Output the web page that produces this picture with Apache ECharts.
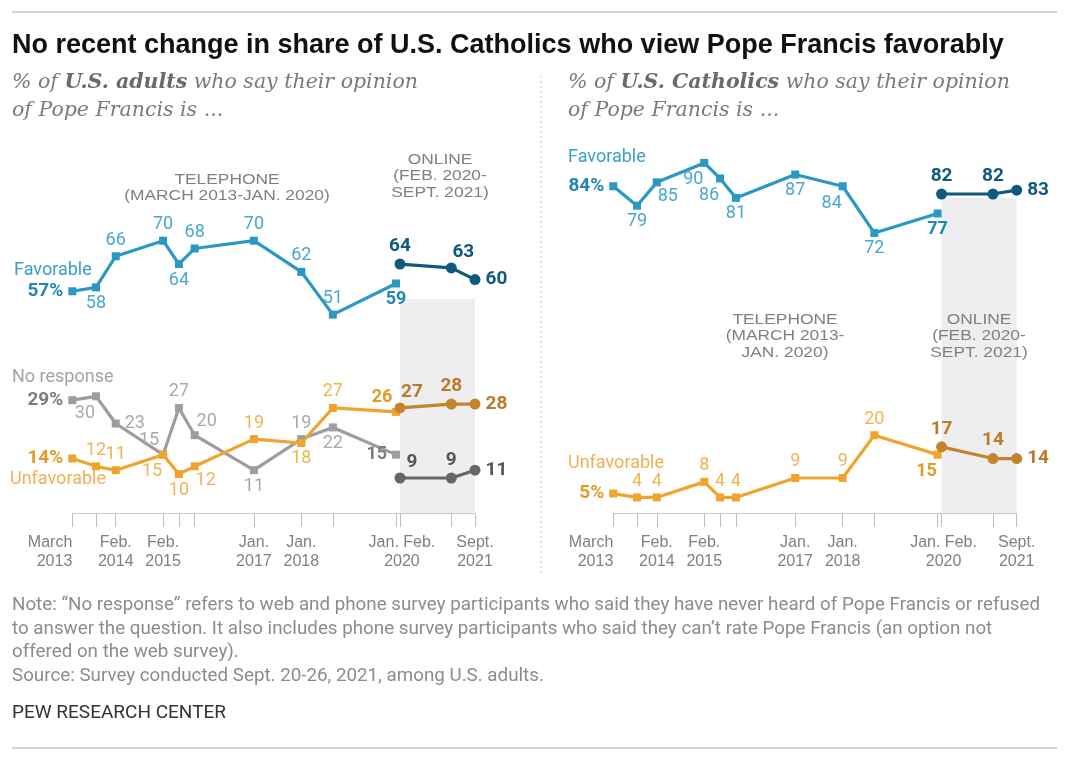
<!DOCTYPE html>
<html><head><meta charset="utf-8">
<script src="https://cdn.jsdelivr.net/npm/echarts@6/dist/echarts.min.js"></script>
<style>html,body{margin:0;padding:0;background:#fff}#c{width:1080px;height:767px}</style>
</head><body><div id="c"></div><script>
// ---- data ----
const telMonths = [0, 6, 11, 23, 27, 31, 46, 58, 66, 82];     // months since March 2013
const onlineMonths = [83, 96, 102];
const tickMonths = [0, 6, 11, 23, 27, 31, 46, 58, 66, 82, 83, 96, 102];
const tickLabelMonths = [0, 11, 23, 46, 58, 83.5, 102];
const tickLabels = ['March\n2013', 'Feb.\n2014', 'Feb.\n2015', 'Jan.\n2017', 'Jan.\n2018', 'Jan. Feb.\n2020', 'Sept.\n2021'];

const adultsFavTel = [57, 58, 66, 70, 64, 68, 70, 62, 51, 59];
const adultsFavOnline = [64, 63, 60];
const adultsUnfavTel = [14, 12, 11, 15, 10, 12, 19, 18, 27, 26];
const adultsUnfavOnline = [27, 28, 28];
const adultsNoRespTel = [29, 30, 23, 15, 27, 20, 11, 19, 22, 15];
const adultsNoRespOnline = [9, 9, 11];
const cathFavTel = [84, 79, 85, 90, 86, 81, 87, 84, 72, 77];
const cathFavOnline = [82, 82, 83];
const cathUnfavTel = [5, 4, 4, 8, 4, 4, 9, 9, 20, 15];
const cathUnfavOnline = [17, 14, 14];

// ---- label placement (style) ----
const adultsFavTelPos = ['l','b','t','t','b','t','t','t','t','b'];
const adultsFavOnlinePos = ['t','tr','r'];
const adultsUnfavTelPos = ['l','t','t','bl','b','br','t','b','t','tl'];
const adultsUnfavOnlinePos = ['tr','t','r'];
const adultsNoRespTelPos = ['l','bl','r','tl','t','tr','b','t','b','l'];
const adultsNoRespOnlinePos = ['tr','t','r'];
const cathFavTelPos = ['l','b','br','bl','bl','b','b','bl','b','b'];
const cathFavOnlinePos = ['t','t','r'];
const cathUnfavTelPos = ['l','t','t','t','t','t','t','t','t','bl'];
const cathUnfavOnlinePos = ['t','t','r'];

const posMap = {
  t: {position: 'top', distance: 3},
  b: {position: 'bottom', distance: 3},
  l: {position: 'left', distance: 5},
  r: {position: 'right', distance: 5},
  tl: {position: 'top', distance: 1, offset: [-14, 0]},
  tr: {position: 'top', distance: 1, offset: [12, 0]},
  bl: {position: 'bottom', distance: 2, offset: [-11, 2]},
  br: {position: 'bottom', distance: 1, offset: [11, 0]}
};

const FONT = '"Liberation Sans", Roboto, sans-serif';
const LFONT = 'Roboto, "Liberation Sans", sans-serif';

function mkSeries(idx, months, vals, pos, st) {
  return {
    type: 'line',
    xAxisIndex: idx, yAxisIndex: idx,
    symbol: st.online ? 'circle' : 'rect',
    symbolSize: st.online ? 11 : 8,
    lineStyle: {color: st.color, width: 3.2},
    itemStyle: {color: st.color},
    z: st.online ? 4 : 3,
    animation: false,
    data: months.map((m, i) => {
      const first = !st.online && i === 0;
      const lastTel = !st.online && i === months.length - 1;
      return {
        value: [m, vals[i]],
        label: Object.assign({
          show: true,
          fontFamily: LFONT,
          fontSize: (st.online || first) ? 19 : 18,
          fontWeight: (st.online || first || lastTel) ? 'bold' : 'normal',
          color: st.online ? st.labelColor : (first || lastTel ? st.strongColor : st.labelColor),
          formatter: first ? (p) => p.value[1] + '%' : (p) => '' + p.value[1]
        }, posMap[pos[i]])
      };
    }),
    markArea: st.shade ? {
      silent: true,
      itemStyle: {color: '#eeeef0'},
      data: [[{xAxis: onlineMonths[0], yAxis: 0}, {xAxis: onlineMonths[onlineMonths.length - 1], yAxis: st.shade}]]
    } : undefined
  };
}

const C = {
  favTel: {color: '#2a98c4', labelColor: '#4ba8cc', strongColor: '#2087b3'},
  favOn: {online: true, color: '#0d5a7e', labelColor: '#0d5a7e'},
  unfTel: {color: '#f0a42c', labelColor: '#f2b451', strongColor: '#e49a25'},
  unfOn: {online: true, color: '#c4842c', labelColor: '#b97b2a'},
  nrTel: {color: '#9d9d9d', labelColor: '#a9a9a9', strongColor: '#7d7d7d'},
  nrOn: {online: true, color: '#666666', labelColor: '#555555'}
};

const AXIS_LABEL_STYLE = {margin: 20, color: '#808080', fontFamily: FONT, fontSize: 16, lineHeight: 19};

// main time axis: line, ticks at every survey, centred labels (all but the first)
function axisX(gi) {
  return {
    type: 'value', gridIndex: gi, min: 0, max: 102, position: 'bottom',
    axisLine: {show: true, lineStyle: {color: '#c8c8c8', width: 1}},
    axisTick: {show: true, customValues: tickMonths, length: 14, lineStyle: {color: '#bdbdbd'}},
    splitLine: {show: false},
    axisLabel: Object.assign({
      customValues: tickLabelMonths.slice(1),
      showMinLabel: true, showMaxLabel: true,
      formatter: (v) => {
        const i = tickLabelMonths.indexOf(v);
        return i < 0 ? '' : tickLabels[i];
      }
    }, AXIS_LABEL_STYLE)
  };
}
// companion axis on the same scale that carries only the first label, right-aligned to its tick
function axisXFirst(gi) {
  return {
    type: 'value', gridIndex: gi, min: 0, max: 102, position: 'bottom', offset: 0,
    axisLine: {show: false}, axisTick: {show: false}, splitLine: {show: false},
    axisLabel: Object.assign({
      customValues: tickLabelMonths.slice(0, 1),
      showMinLabel: true,
      align: 'right',
      formatter: () => tickLabels[0]
    }, AXIS_LABEL_STYLE)
  };
}
function axisY(gi) {
  return {type: 'value', gridIndex: gi, min: 0, max: 100, show: false, splitLine: {show: false}};
}

const HDR = {align: 'center', font: '15.5px ' + FONT, fill: '#808080', lineHeight: 16.5};
const graphics = [
  {type: 'line', shape: {x1: 12, y1: 12, x2: 1057, y2: 12}, style: {stroke: '#c4c4c4', lineWidth: 1.5}},
  {type: 'line', shape: {x1: 12, y1: 748, x2: 1057, y2: 748}, style: {stroke: '#c4c4c4', lineWidth: 1.5}},
  {type: 'line', shape: {x1: 541, y1: 76, x2: 541, y2: 574}, style: {stroke: '#c8c8c8', lineWidth: 1, lineDash: [2, 3]}},
  {type: 'text', left: 12, top: 32, style: {text: 'No recent change in share of U.S. Catholics who view Pope Francis favorably', font: 'bold 27px "Liberation Sans", sans-serif', fill: '#111'}},
  {type: 'text', left: 12, top: 73, style: {
    text: '{a|% of }{b|U.S. adults}{a| who say their opinion}\n{a|of Pope Francis is ...}',
    rich: {a: {font: 'italic 20.5px "DejaVu Serif", serif', fill: '#7a7a7a', lineHeight: 28}, b: {font: 'italic bold 20.5px "DejaVu Serif", serif', fill: '#6a6a6a', lineHeight: 28}}
  }},
  {type: 'text', left: 568, top: 73, style: {
    text: '{a|% of }{b|U.S. Catholics}{a| who say their opinion}\n{a|of Pope Francis is ...}',
    rich: {a: {font: 'italic 20.5px "DejaVu Serif", serif', fill: '#7a7a7a', lineHeight: 28}, b: {font: 'italic bold 20.5px "DejaVu Serif", serif', fill: '#6a6a6a', lineHeight: 28}}
  }},
  {type: 'text', x: 227, y: 171, z: 100, scaleX: 1.12, style: Object.assign({text: 'TELEPHONE\n(MARCH 2013-JAN. 2020)'}, HDR)},
  {type: 'text', x: 440, y: 151, z: 100, scaleX: 1.12, style: Object.assign({text: 'ONLINE\n(FEB. 2020-\nSEPT. 2021)'}, HDR)},
  {type: 'text', x: 785, y: 311, z: 100, scaleX: 1.12, style: Object.assign({text: 'TELEPHONE\n(MARCH 2013-\nJAN. 2020)'}, HDR)},
  {type: 'text', x: 979, y: 311, z: 100, scaleX: 1.12, style: Object.assign({text: 'ONLINE\n(FEB. 2020-\nSEPT. 2021)'}, HDR)},
  {type: 'text', left: 14, top: 261, z: 100, style: {text: 'Favorable', font: '18px ' + LFONT, fill: '#3a9fc8'}},
  {type: 'text', left: 12, top: 368, z: 100, style: {text: 'No response', font: '18px ' + LFONT, fill: '#a3a3a3'}},
  {type: 'text', left: 10, top: 470, z: 100, style: {text: 'Unfavorable', font: '18px ' + LFONT, fill: '#f0b050'}},
  {type: 'text', left: 568, top: 148, z: 100, style: {text: 'Favorable', font: '18px ' + LFONT, fill: '#3a9fc8'}},
  {type: 'text', left: 568, top: 454, z: 100, style: {text: 'Unfavorable', font: '18px ' + LFONT, fill: '#f0b050'}},
  {type: 'text', x: 12, y: 594, scaleX: 1.015, style: {
    text: 'Note: \u201cNo response\u201d refers to web and phone survey participants who said they have never heard of Pope Francis or refused\nto answer the question. It also includes phone survey participants who said they can\u2019t rate Pope Francis (an option not\noffered on the web survey).\nSource: Survey conducted Sept. 20-26, 2021, among U.S. adults.',
    font: '18.5px ' + LFONT, fill: '#8c8c8c', lineHeight: 23.5}},
  {type: 'text', x: 12, y: 704, style: {text: 'PEW RESEARCH CENTER', font: '19px ' + LFONT, fill: '#333'}}
];

const chart = echarts.init(document.getElementById('c'), null, {renderer: 'canvas'});
chart.setOption({
  backgroundColor: '#fff',
  animation: false,
  grid: [
    {left: 72.3, right: 605, top: 124, bottom: 254},
    {left: 613.3, right: 63.3, top: 124, bottom: 254}
  ],
  xAxis: [axisX(0), axisX(1), axisXFirst(0), axisXFirst(1)],
  yAxis: [axisY(0), axisY(1)],
  graphic: graphics,
  series: [
    mkSeries(0, telMonths, adultsNoRespTel, adultsNoRespTelPos, C.nrTel),
    mkSeries(0, onlineMonths, adultsNoRespOnline, adultsNoRespOnlinePos, Object.assign({shade: 55}, C.nrOn)),
    mkSeries(0, telMonths, adultsUnfavTel, adultsUnfavTelPos, C.unfTel),
    mkSeries(0, onlineMonths, adultsUnfavOnline, adultsUnfavOnlinePos, C.unfOn),
    mkSeries(0, telMonths, adultsFavTel, adultsFavTelPos, C.favTel),
    mkSeries(0, onlineMonths, adultsFavOnline, adultsFavOnlinePos, C.favOn),
    mkSeries(1, telMonths, cathUnfavTel, cathUnfavTelPos, C.unfTel),
    mkSeries(1, onlineMonths, cathUnfavOnline, cathUnfavOnlinePos, Object.assign({shade: 81}, C.unfOn)),
    mkSeries(1, telMonths, cathFavTel, cathFavTelPos, C.favTel),
    mkSeries(1, onlineMonths, cathFavOnline, cathFavOnlinePos, C.favOn)
  ]
});
</script></body></html>
